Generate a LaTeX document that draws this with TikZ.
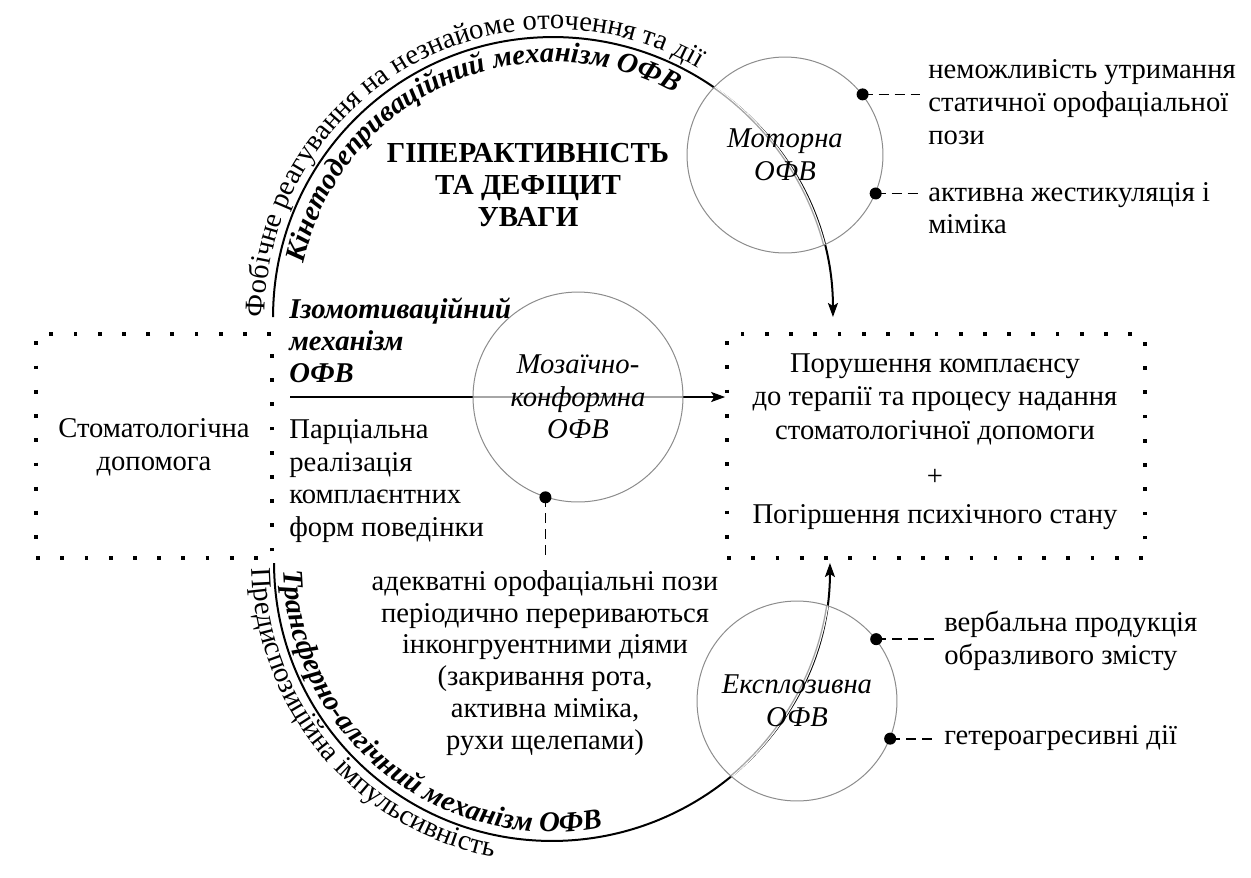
\documentclass[tikz,border=0pt]{standalone}
\usepackage{fontspec}
\setmainfont{Liberation Serif}
\usetikzlibrary{arrows.meta,decorations.text}
\newcommand\txtsz{\fontsize{16.3pt}{18.6pt}\selectfont}
\newcommand\bisz{\fontsize{16.3pt}{18.2pt}\selectfont\bfseries\itshape}
\newcommand\bsz{\fontsize{16.5pt}{18.2pt}\selectfont\bfseries}
\begin{document}
\begin{tikzpicture}[x=0.02cm, y=0.02cm,
  every node/.style={inner sep=0pt, font=\txtsz},
  dotbox/.style={draw, line width=0.075cm, dash pattern=on 0.075cm off 0.41cm},
  ofv/.style={circle, draw=black!45, line width=0.02cm, font=\txtsz\itshape, align=center, inner sep=0pt},
  mainline/.style={line width=0.04cm, black},
  greyline/.style={line width=0.026cm, black!35},
  wipe/.style={line width=0.07cm, white},
  arr/.style={-{Stealth[length=0.28cm,width=0.2cm,inset=0.06cm]}},
  dashconn/.style={line width=0.035cm, dash pattern=on 0.2cm off 0.12cm},
  dotmark/.style={circle, fill=black, minimum size=0.24cm, inner sep=0pt},
  sidetext/.style={anchor=west, align=left, inner xsep=0.16cm, inner ysep=0pt},
]
\useasboundingbox (0,0) rectangle (1251,-877);

% centres
\coordinate (tc) at (553,-317);
\coordinate (bc) at (552,-563);
\coordinate (motc) at (785,-155);
\coordinate (mozc) at (578,-397);
\coordinate (expc) at (797,-701);
\coordinate (hs) at (290,-397);
\coordinate (d5end) at (545,-557);

% dotted boxes
\node[dotbox, minimum width=4.72cm, minimum height=4.48cm] (care) at (154,-446) {};
\node[dotbox, minimum width=8.36cm, minimum height=4.48cm] (res) at (936,-446) {};

% texts
\node[align=center] (caretxt) at (154,-447) {Стоматологічна\\допомога};
\node[align=center, font=\fontsize{16.3pt}{19pt}\selectfont] (restxt) at (935,-399) {Порушення комплаєнсу\\до терапії та процесу надання\\стоматологічної допомоги};
\node (plus) at (935,-477) {+};
\node (worse) at (935,-517) {Погіршення психічного стану};
\node[anchor=west, align=left, font=\bisz] (izo) at (289,-340) {Ізомотиваційний\\механізм\\ОФВ};
\node[anchor=west, align=left] (parc) at (289,-481) {Парціальна\\реалізація\\комплаєнтних\\форм поведінки};
\node[align=center, font=\bsz] (title) at (528,-185) {ГІПЕРАКТИВНІСТЬ\\ТА ДЕФІЦИТ\\УВАГИ};
\node[align=center, font=\fontsize{16.3pt}{18.1pt}\selectfont] (adeq) at (545,-663) {адекватні орофаціальні пози\\періодично перериваються\\інконгруентними діями\\(закривання рота,\\активна міміка,\\рухи щелепами)};
\node[sidetext] (t1) at (920,-102) {неможливість утримання\\статичної орофаціальної\\пози};
\node[sidetext] (t2) at (920,-208) {активна жестикуляція і\\міміка};
\node[sidetext] (t3) at (936,-641) {вербальна продукція\\образливого змісту};
\node[sidetext] (t4) at (936,-738) {гетероагресивні дії};

% main connectors
\draw[mainline, arr] ([shift={(180:5.6cm)}]tc) arc[start angle=180, end angle=0, radius=5.6cm];
\draw[mainline, arr] ([shift={(180:5.56cm)}]bc) arc[start angle=180, end angle=360, radius=5.56cm];
\draw[mainline, arr] (hs) -- (hs -| res.west);

% grey parts inside circles
\begin{scope}
  \clip (motc) circle[radius=1.96cm];
  \draw[wipe] ([shift={(180:5.6cm)}]tc) arc[start angle=180, end angle=0, radius=5.6cm];
  \draw[greyline] ([shift={(180:5.6cm)}]tc) arc[start angle=180, end angle=0, radius=5.6cm];
\end{scope}
\begin{scope}
  \clip (expc) circle[radius=2cm];
  \draw[wipe] ([shift={(180:5.56cm)}]bc) arc[start angle=180, end angle=360, radius=5.56cm];
  \draw[greyline] ([shift={(180:5.56cm)}]bc) arc[start angle=180, end angle=360, radius=5.56cm];
\end{scope}
\begin{scope}
  \clip (mozc) circle[radius=2.1cm];
  \draw[wipe] (hs) -- (hs -| res.west);
  \draw[greyline] (hs) -- (hs -| res.west);
\end{scope}

% circles
\node[ofv, minimum size=3.92cm] (mot) at (motc) {Моторна\\ОФВ};
\node[ofv, minimum size=4.2cm] (moz) at (mozc) {Мозаїчно-\\конформна\\ОФВ};
\node[ofv, minimum size=4cm] (exp) at (expc) {Експлозивна\\ОФВ};

% dots and dashed leaders
\node[dotmark] (d1) at (mot.38) {};
\node[dotmark] (d2) at (mot.-23) {};
\node[dotmark] (d3) at (exp.38) {};
\node[dotmark] (d4) at (exp.-22) {};
\node[dotmark] (d5) at (moz.252) {};
\draw[dashconn] (d1.center) -- (d1.center -| t1.west);
\draw[dashconn] (d2.center) -- (d2.center -| t2.west);
\draw[dashconn] (d3.center) -- (d3.center -| t3.west);
\draw[dashconn] (d4.center) -- (d4.center -| t4.west);
\draw[dashconn] (d5.center) -- (d5.center |- d5end);

% curved labels
\path[decorate, decoration={text along path, text align=left,
  text={|\txtsz|Фобічне реагування на незнайоме оточення та дії}}]
  ([shift={(180:5.76cm)}]tc) arc[start angle=180, end angle=30, radius=5.76cm];
\path[decorate, decoration={text along path, text align=left,
  text={|\bisz|Кінетодеприваційний механізм ОФВ}}]
  ([shift={(168:5.1cm)}]tc) arc[start angle=168, end angle=30, radius=5.1cm];
\path[decorate, decoration={text along path, text align=left,
  text={|\bisz|Трансферно-алгічний механізм ОФВ}}]
  ([shift={(181.5:5.38cm)}]bc) arc[start angle=181.5, end angle=330, radius=5.38cm];
\path[decorate, decoration={text along path, text align=left,
  text={|\txtsz|Предиспозиційна імпульсивність}}]
  ([shift={(181:6.0cm)}]bc) arc[start angle=181, end angle=330, radius=6.0cm];
\end{tikzpicture}
\end{document}
